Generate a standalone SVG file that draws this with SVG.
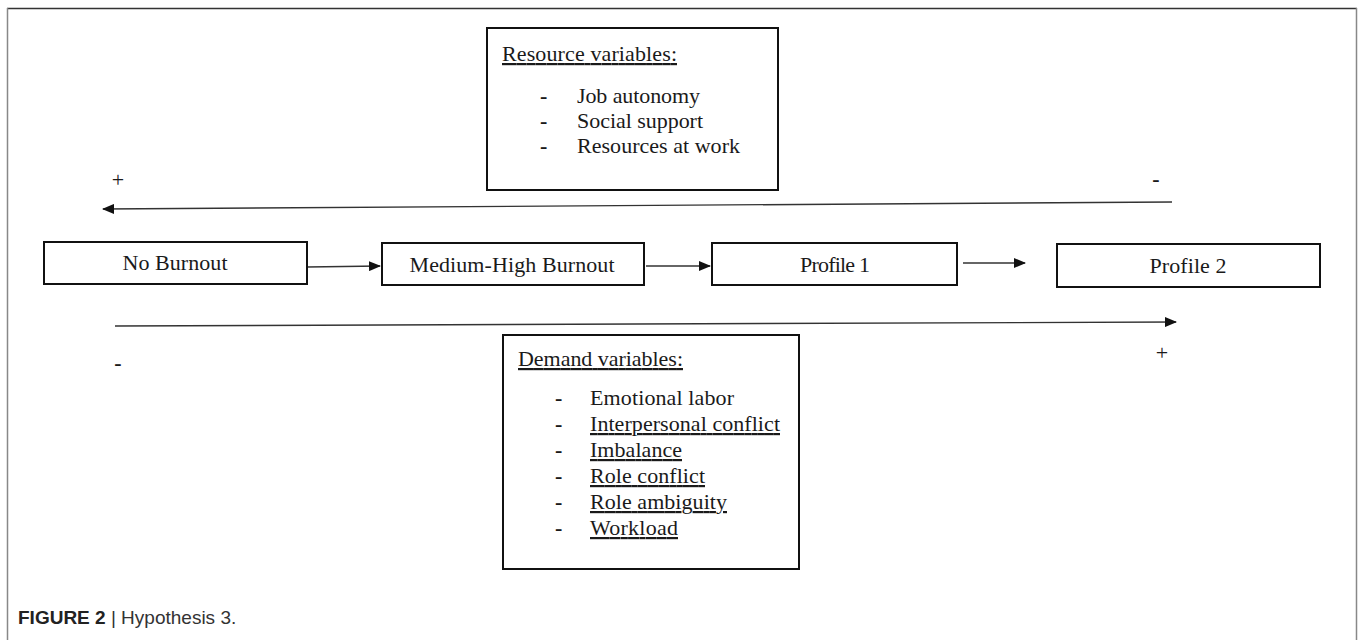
<svg xmlns="http://www.w3.org/2000/svg" width="1358" height="640" viewBox="0 0 1358 640">
<style>
.box{fill:#fff;stroke:#111;stroke-width:2}
.t{font-family:"Liberation Serif","Times New Roman",serif;font-size:22px;fill:#1a1a1a}
.u{text-decoration:underline}
.c{text-anchor:middle}
.conn{stroke:#333;stroke-width:1.4;fill:none}
.cap{font-family:"Liberation Sans",Arial,sans-serif;font-size:19px;fill:#333}
</style>
<defs>
<marker id="ah" markerUnits="userSpaceOnUse" markerWidth="12" markerHeight="10" refX="11" refY="5" orient="auto">
<path d="M0,0 L12,5 L0,10 z" fill="#111"/>
</marker>
</defs>
<rect width="1358" height="640" fill="#fff"/>
<g id="frame">
<line x1="7" y1="8.5" x2="1357" y2="8.5" stroke="#333" stroke-width="1.5"/>
<line x1="7.5" y1="8" x2="7.5" y2="640" stroke="#888" stroke-width="1.5"/>
<line x1="1356.5" y1="8" x2="1356.5" y2="640" stroke="#888" stroke-width="1.5"/>
</g>
<g id="connectors">
<line class="conn" x1="1172" y1="202" x2="103" y2="209" marker-end="url(#ah)"/>
<line class="conn" x1="115" y1="326" x2="1176" y2="322" marker-end="url(#ah)"/>
<line class="conn" x1="307" y1="267" x2="380" y2="266" marker-end="url(#ah)"/>
<line class="conn" x1="646" y1="266" x2="710" y2="266" marker-end="url(#ah)"/>
<line class="conn" x1="963" y1="263" x2="1025" y2="263" marker-end="url(#ah)"/>
</g>
<g id="signs">
<text class="t c" x="118" y="187" font-size="17">+</text>
<text class="t c" x="1156" y="186" font-weight="bold">-</text>
<text class="t c" x="118" y="370" font-weight="bold">-</text>
<text class="t c" x="1162" y="360" font-size="17">+</text>
</g>
<g id="resource-variables">
<rect class="box" x="487" y="28" width="291" height="162"/>
<text class="t u" x="502" y="61" textLength="175">Resource variables:</text>
<text class="t" x="540" y="103" font-weight="bold">-</text>
<text class="t" x="577" y="103" textLength="123">Job autonomy</text>
<text class="t" x="540" y="128" font-weight="bold">-</text>
<text class="t" x="577" y="128" textLength="126">Social support</text>
<text class="t" x="540" y="153" font-weight="bold">-</text>
<text class="t" x="577" y="153" textLength="163">Resources at work</text>
</g>
<g id="no-burnout">
<rect class="box" x="44" y="242" width="263" height="42"/>
<text class="t c" x="175" y="270" textLength="105">No Burnout</text>
</g>
<g id="medium-high-burnout">
<rect class="box" x="382" y="243" width="262" height="42"/>
<text class="t c" x="512" y="272" textLength="205">Medium-High Burnout</text>
</g>
<g id="profile-1">
<rect class="box" x="712" y="243" width="245" height="42"/>
<text class="t c" x="835" y="272" textLength="70">Profile 1</text>
</g>
<g id="profile-2">
<rect class="box" x="1057" y="244" width="263" height="43"/>
<text class="t c" x="1188" y="273" textLength="77">Profile 2</text>
</g>
<g id="demand-variables">
<rect class="box" x="503" y="335" width="296" height="234"/>
<text class="t u" x="518" y="366" textLength="165">Demand variables:</text>
<text class="t" x="555" y="405" font-weight="bold">-</text>
<text class="t" x="590" y="405" textLength="144">Emotional labor</text>
<text class="t" x="555" y="431" font-weight="bold">-</text>
<text class="t u" x="590" y="431" textLength="190">Interpersonal conflict</text>
<text class="t" x="555" y="457" font-weight="bold">-</text>
<text class="t u" x="590" y="457" textLength="92">Imbalance</text>
<text class="t" x="555" y="483" font-weight="bold">-</text>
<text class="t u" x="590" y="483" textLength="115">Role conflict</text>
<text class="t" x="555" y="509" font-weight="bold">-</text>
<text class="t u" x="590" y="509" textLength="137">Role ambiguity</text>
<text class="t" x="555" y="535" font-weight="bold">-</text>
<text class="t u" x="590" y="535" textLength="88">Workload</text>
</g>
<g id="caption">
<text class="cap" x="18" y="624"><tspan font-weight="bold" fill="#222">FIGURE 2</tspan> | Hypothesis 3.</text>
</g>
</svg>
